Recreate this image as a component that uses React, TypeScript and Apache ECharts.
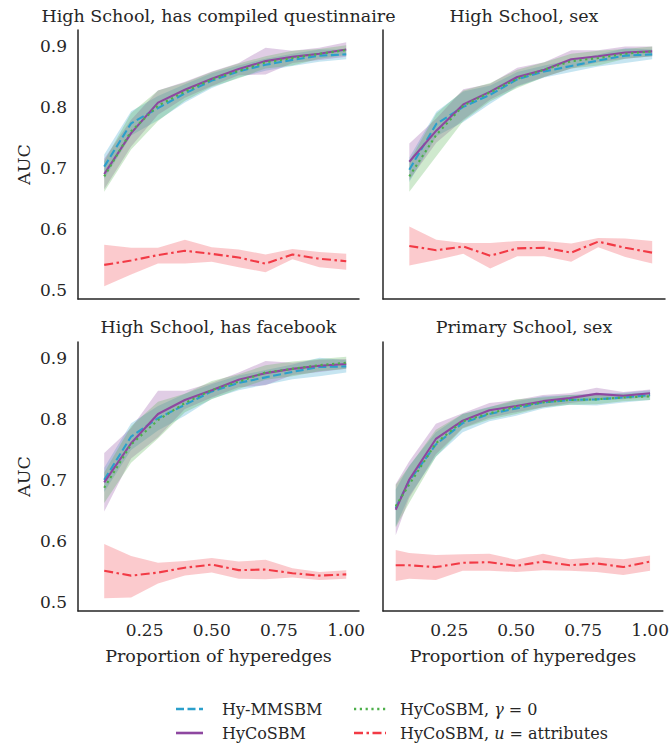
import React, { useEffect, useRef } from "react";
import * as echarts from "echarts";

// ---------- data ----------
const xHigh = [0.1, 0.2, 0.3, 0.4, 0.5, 0.6, 0.7, 0.8, 0.9, 1.0];
const xPrimary = [0.05, 0.1, 0.2, 0.3, 0.4, 0.5, 0.6, 0.7, 0.8, 0.9, 1.0];

const titles = [
  "High School, has compiled questinnaire",
  "High School, sex",
  "High School, has facebook",
  "Primary School, sex",
];

const seriesNames = ["Hy-MMSBM", "HyCoSBM", "HyCoSBM, γ = 0", "HyCoSBM, u = attributes"];

// Panel 1: High School, has compiled questionnaire
const p1Mmsbm = [0.703, 0.774, 0.799, 0.823, 0.844, 0.859, 0.87, 0.878, 0.885, 0.887];
const p1MmsbmErr = [0.02, 0.02, 0.02, 0.015, 0.012, 0.01, 0.01, 0.01, 0.01, 0.008];
const p1Hyco = [0.691, 0.758, 0.808, 0.829, 0.847, 0.863, 0.876, 0.883, 0.888, 0.895];
const p1HycoErr = [0.025, 0.022, 0.02, 0.013, 0.012, 0.01, 0.022, 0.01, 0.01, 0.012];
const p1Gamma = [0.687, 0.761, 0.803, 0.826, 0.846, 0.86, 0.874, 0.881, 0.888, 0.894];
const p1GammaErr = [0.025, 0.03, 0.025, 0.015, 0.012, 0.012, 0.01, 0.012, 0.008, 0.008];
const p1Attr = [0.542, 0.549, 0.558, 0.565, 0.56, 0.554, 0.544, 0.559, 0.552, 0.548];
const p1AttrLo = [0.507, 0.526, 0.544, 0.544, 0.547, 0.538, 0.53, 0.551, 0.538, 0.534];
const p1AttrHi = [0.575, 0.57, 0.57, 0.583, 0.571, 0.567, 0.559, 0.568, 0.563, 0.56];

// Panel 2: High School, sex
const p2Mmsbm = [0.698, 0.773, 0.801, 0.821, 0.846, 0.859, 0.868, 0.877, 0.885, 0.887];
const p2MmsbmErr = [0.02, 0.02, 0.025, 0.015, 0.012, 0.01, 0.01, 0.01, 0.012, 0.008];
const p2Hyco = [0.711, 0.762, 0.805, 0.826, 0.85, 0.862, 0.879, 0.884, 0.89, 0.892];
const p2HycoErr = [0.03, 0.02, 0.025, 0.013, 0.015, 0.012, 0.015, 0.01, 0.01, 0.008];
const p2Gamma = [0.687, 0.755, 0.803, 0.825, 0.847, 0.862, 0.876, 0.881, 0.888, 0.892];
const p2GammaErr = [0.025, 0.035, 0.025, 0.015, 0.015, 0.012, 0.012, 0.012, 0.008, 0.008];
const p2Attr = [0.573, 0.566, 0.572, 0.557, 0.569, 0.57, 0.562, 0.58, 0.57, 0.562];
const p2AttrLo = [0.541, 0.55, 0.56, 0.536, 0.556, 0.556, 0.547, 0.571, 0.555, 0.544];
const p2AttrHi = [0.605, 0.583, 0.578, 0.578, 0.581, 0.581, 0.577, 0.586, 0.585, 0.581];

// Panel 3: High School, has facebook
const p3Mmsbm = [0.701, 0.772, 0.802, 0.824, 0.846, 0.86, 0.869, 0.878, 0.886, 0.887];
const p3MmsbmErr = [0.02, 0.022, 0.02, 0.018, 0.012, 0.012, 0.012, 0.012, 0.015, 0.01];
const p3Hyco = [0.697, 0.761, 0.809, 0.832, 0.848, 0.865, 0.876, 0.883, 0.888, 0.891];
const p3HycoErr = [0.048, 0.025, 0.038, 0.015, 0.012, 0.012, 0.02, 0.01, 0.01, 0.008];
const p3Gamma = [0.688, 0.759, 0.799, 0.827, 0.848, 0.862, 0.877, 0.883, 0.889, 0.893];
const p3GammaErr = [0.025, 0.03, 0.03, 0.015, 0.015, 0.012, 0.012, 0.012, 0.01, 0.01];
const p3Attr = [0.552, 0.544, 0.549, 0.557, 0.562, 0.553, 0.554, 0.548, 0.544, 0.546];
const p3AttrLo = [0.507, 0.508, 0.531, 0.544, 0.549, 0.539, 0.538, 0.541, 0.537, 0.539];
const p3AttrHi = [0.596, 0.576, 0.565, 0.568, 0.573, 0.567, 0.57, 0.556, 0.55, 0.553];

// Panel 4: Primary School, sex
const p4Mmsbm = [0.655, 0.699, 0.759, 0.794, 0.809, 0.818, 0.828, 0.832, 0.833, 0.836, 0.84];
const p4MmsbmErr = [0.03, 0.025, 0.02, 0.015, 0.012, 0.012, 0.01, 0.008, 0.01, 0.008, 0.008];
const p4Hyco = [0.652, 0.701, 0.768, 0.798, 0.815, 0.822, 0.83, 0.835, 0.842, 0.839, 0.843];
const p4HycoErr = [0.042, 0.03, 0.025, 0.012, 0.012, 0.01, 0.01, 0.008, 0.01, 0.006, 0.006];
const p4Gamma = [0.658, 0.693, 0.761, 0.797, 0.81, 0.821, 0.828, 0.832, 0.833, 0.836, 0.838];
const p4GammaErr = [0.035, 0.03, 0.022, 0.012, 0.01, 0.012, 0.008, 0.008, 0.008, 0.006, 0.006];
const p4Attr = [0.561, 0.561, 0.558, 0.565, 0.566, 0.56, 0.567, 0.561, 0.564, 0.558, 0.567];
const p4AttrLo = [0.535, 0.539, 0.537, 0.552, 0.552, 0.55, 0.553, 0.552, 0.55, 0.545, 0.552];
const p4AttrHi = [0.586, 0.581, 0.578, 0.579, 0.58, 0.57, 0.58, 0.571, 0.574, 0.571, 0.577];

const yTicks = [0.5, 0.6, 0.7, 0.8, 0.9];
const xTicks = [0.25, 0.5, 0.75, 1.0];

// ---------- styling ----------
const COLORS = ["#2b9fcb", "#8e47a0", "#4daf4a", "#f23a45"];
const DASHES: any[] = [[8, 3.5], "solid", [2.2, 3.6], [9, 3.5, 2.5, 3.5]];
const FONT = "DejaVu Serif";
const TXT = "#262626";
const FS = 17;

const grids = [
  { left: 78, top: 30, width: 281, height: 269 },
  { left: 383, top: 30, width: 282, height: 269 },
  { left: 78, top: 342, width: 281, height: 269 },
  { left: 383, top: 342, width: 282, height: 269 },
];

function band(x: number[], lo: number[], hi: number[], color: string, gi: number) {
  const data = x.map((v, k) => [v, lo[k], hi[k]]);
  return {
    type: "custom",
    xAxisIndex: gi,
    yAxisIndex: gi,
    silent: true,
    z: 1,
    data,
    encode: { x: 0, y: [1, 2] },
    renderItem: (params: any, api: any) => {
      if (params.dataIndexInside !== 0) return { type: "group", children: [] };
      const up = data.map((d) => api.coord([d[0], d[2]]));
      const dn = data.map((d) => api.coord([d[0], d[1]])).reverse();
      return {
        type: "polygon",
        shape: { points: up.concat(dn) },
        style: { fill: color, opacity: 0.27 },
        silent: true,
      };
    },
  };
}

function line(name: string, x: number[], y: number[], idx: number, gi: number) {
  return {
    type: "line",
    name,
    xAxisIndex: gi,
    yAxisIndex: gi,
    data: x.map((v, k) => [v, y[k]]),
    symbol: "none",
    z: 3 + idx,
    lineStyle: { color: COLORS[idx], width: 2.1, type: DASHES[idx] },
  };
}

export default function App() {
  const ref = useRef<HTMLDivElement>(null);
  useEffect(() => {
    document.body.style.margin = "0";
    const chart = echarts.init(ref.current!, null, { renderer: "svg" });

    const panels = [
      { x: xHigh, m: [p1Mmsbm, p1Hyco, p1Gamma], e: [p1MmsbmErr, p1HycoErr, p1GammaErr], a: p1Attr, lo: p1AttrLo, hi: p1AttrHi },
      { x: xHigh, m: [p2Mmsbm, p2Hyco, p2Gamma], e: [p2MmsbmErr, p2HycoErr, p2GammaErr], a: p2Attr, lo: p2AttrLo, hi: p2AttrHi },
      { x: xHigh, m: [p3Mmsbm, p3Hyco, p3Gamma], e: [p3MmsbmErr, p3HycoErr, p3GammaErr], a: p3Attr, lo: p3AttrLo, hi: p3AttrHi },
      { x: xPrimary, m: [p4Mmsbm, p4Hyco, p4Gamma], e: [p4MmsbmErr, p4HycoErr, p4GammaErr], a: p4Attr, lo: p4AttrLo, hi: p4AttrHi },
    ];

    const series: any[] = [];
    panels.forEach((p, gi) => {
      p.m.forEach((ys, si) => {
        const lo = ys.map((v, k) => v - p.e[si][k]);
        const hi = ys.map((v, k) => v + p.e[si][k]);
        series.push(band(p.x, lo, hi, COLORS[si], gi));
      });
      series.push(band(p.x, p.lo, p.hi, COLORS[3], gi));
      p.m.forEach((ys, si) => series.push(line(seriesNames[si], p.x, ys, si, gi)));
      series.push(line(seriesNames[3], p.x, p.a, 3, gi));
    });

    const axisLine = { show: true, lineStyle: { color: TXT, width: 1.5 } };
    const xAxis = grids.map((_, gi) => ({
      type: "value",
      gridIndex: gi,
      min: 0.0025,
      max: 1.0475,
      axisLine,
      axisTick: { show: false },
      splitLine: { show: false },
      axisLabel: {
        show: gi >= 2,
        customValues: xTicks,
        formatter: (v: number) => v.toFixed(2),
        color: TXT,
        fontFamily: FONT,
        fontSize: FS,
        margin: 10,
      },
      name: gi >= 2 ? "Proportion of hyperedges" : "",
      nameLocation: "middle",
      nameGap: 36,
      nameTextStyle: { color: TXT, fontFamily: FONT, fontSize: 17.5 },
    }));
    const yAxis = grids.map((_, gi) => ({
      type: "value",
      gridIndex: gi,
      min: 0.486,
      max: 0.927,
      axisLine,
      axisTick: { show: false },
      splitLine: { show: false },
      axisLabel: {
        show: gi % 2 === 0,
        customValues: yTicks,
        formatter: (v: number) => v.toFixed(1),
        color: TXT,
        fontFamily: FONT,
        fontSize: FS,
        margin: 11,
      },
      name: gi % 2 === 0 ? "AUC" : "",
      nameLocation: "middle",
      nameGap: 45,
      nameTextStyle: { color: TXT, fontFamily: FONT, fontSize: 17.5 },
    }));

    const titleEls = titles.map((t, gi) => ({
      type: "text",
      x: grids[gi].left + grids[gi].width / 2,
      y: gi < 2 ? 16 : 327,
      style: {
        text: t,
        textAlign: "center",
        textVerticalAlign: "middle",
        fill: TXT,
        font: `17.5px "${FONT}"`,
      },
    }));

    const legendPos = [
      { x1: 176, x2: 203, tx: 222, y: 709 },
      { x1: 176, x2: 203, tx: 222, y: 733 },
      { x1: 354, x2: 386, tx: 400, y: 709 },
      { x1: 354, x2: 386, tx: 400, y: 733 },
    ];
    const legendRich = [
      "{a|Hy-MMSBM}",
      "{a|HyCoSBM}",
      "{a|HyCoSBM, }{i|γ}{a| = 0}",
      "{a|HyCoSBM, }{i|u}{a| = attributes}",
    ];
    const legendEls: any[] = [];
    legendPos.forEach((p, i) => {
      legendEls.push({
        type: "line",
        shape: { x1: p.x1, y1: p.y, x2: p.x2, y2: p.y },
        style: {
          stroke: COLORS[i],
          lineWidth: 2.6,
          lineDash: DASHES[i] === "solid" ? null : DASHES[i],
        },
      });
      legendEls.push({
        type: "text",
        x: p.tx,
        y: p.y,
        style: {
          text: legendRich[i],
          textVerticalAlign: "middle",
          rich: {
            a: { fontFamily: FONT, fontSize: 16, fill: TXT, color: TXT },
            i: { fontFamily: FONT, fontSize: 16, fontStyle: "italic", fill: TXT, color: TXT },
          },
        },
      });
    });

    chart.setOption({
      animation: false,
      backgroundColor: "#ffffff",
      grid: grids,
      xAxis,
      yAxis,
      series,
      graphic: [...titleEls, ...legendEls],
    });
    return () => chart.dispose();
  }, []);
  return <div ref={ref} style={{ width: 672, height: 746 }} />;
}
